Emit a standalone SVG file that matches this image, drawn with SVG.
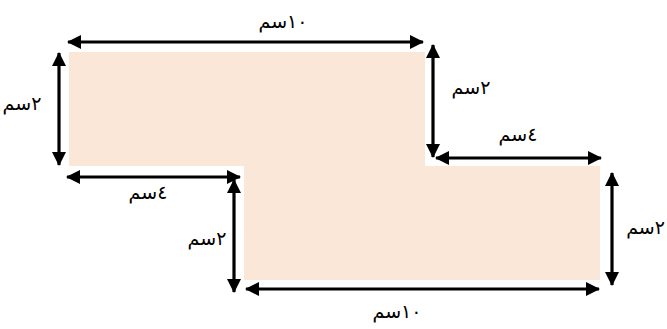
<svg xmlns="http://www.w3.org/2000/svg" width="667" height="329" viewBox="0 0 667 329">
<style>
.shape{fill:#FBE7D8;stroke:none}
.dim{stroke:#000;stroke-width:3.2;fill:none;marker-start:url(#ah);marker-end:url(#ah)}
.lbl{font-family:"DejaVu Sans","Noto Sans",sans-serif;font-size:19px;fill:#000;text-anchor:middle}
</style>
<defs>
<marker id="ah" markerUnits="userSpaceOnUse" markerWidth="14" markerHeight="14" refX="13" refY="7" orient="auto-start-reverse" viewBox="0 0 14 14">
<path d="M0,0 L14,7 L0,14 z" fill="#000"/>
</marker>
</defs>
<g id="shape">
<path class="shape" d="M69,52 H425 V166 H600 V280 H244 V166 H69 Z"/>
</g>
<g id="connectors">
<line class="dim" x1="68" y1="42" x2="423" y2="42"/>
<line class="dim" x1="59" y1="53" x2="59" y2="165"/>
<line class="dim" x1="433" y1="45" x2="433" y2="157"/>
<line class="dim" x1="436" y1="158" x2="601" y2="158"/>
<line class="dim" x1="67" y1="177" x2="240" y2="177"/>
<line class="dim" x1="234" y1="180" x2="234" y2="292"/>
<line class="dim" x1="612" y1="173" x2="612" y2="285"/>
<line class="dim" x1="246" y1="289" x2="599" y2="289"/>
</g>
<g id="labels">
<text id="t-top" class="lbl" x="283" y="28">١٠سم</text>
<text id="t-left" class="lbl" x="22" y="110">٢سم</text>
<text id="t-topright" class="lbl" x="471" y="94">٢سم</text>
<text id="t-notch" class="lbl" x="518" y="141">٤سم</text>
<text id="t-botleft" class="lbl" x="148" y="199">٤سم</text>
<text id="t-mid" class="lbl" x="207" y="245">٢سم</text>
<text id="t-right" class="lbl" x="665" y="234" style="text-anchor:end">٢سم</text>
<text id="t-bottom" class="lbl" x="397" y="318">١٠سم</text>
</g>
</svg>
